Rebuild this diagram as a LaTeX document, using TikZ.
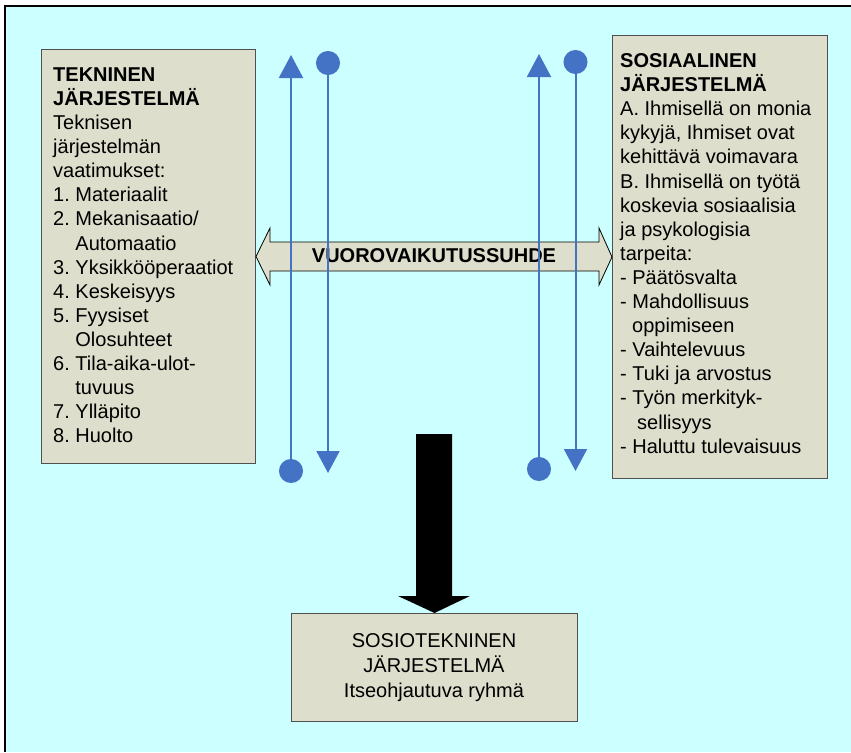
\documentclass[tikz,border=0pt]{standalone}
\usepackage{fontspec}
\setmainfont{Liberation Sans}
\usetikzlibrary{arrows.meta}
\frenchspacing
\definecolor{bgcyan}{HTML}{CCFFFF}
\definecolor{boxfill}{HTML}{DDDECB}
\definecolor{boxline}{HTML}{505050}
\definecolor{lineblue}{HTML}{4472C4}
\tikzset{
  sysbox/.style={draw=boxline, line width=1pt, fill=boxfill, inner sep=0pt, anchor=north west},
  boxtext/.style={inner sep=0pt, align=left, font=\fontsize{20}{24.1}\selectfont},
  bluelink/.style={draw=lineblue, line width=2pt},
  upend/.style={bluelink, {Circle[length=24pt,width=24pt]}-{Triangle[length=23pt,width=24pt]}},
  downend/.style={bluelink, {Circle[length=24pt,width=24pt]}-{Triangle[length=22pt,width=23pt]}},
}
\begin{document}
\begin{tikzpicture}[x=1pt,y=-1pt]
\useasboundingbox (0,0) rectangle (851,752);
\fill[bgcyan] (5,6) rectangle (851,752);
\draw[line width=1.5pt] (5,752) -- (5,6) -- (851,6);

% boxes
\node[sysbox, minimum width=214pt, minimum height=414pt] (tek) at (41,49) {};
\node[sysbox, minimum width=215pt, minimum height=443pt] (sos) at (612,35) {};
\node[sysbox, minimum width=286pt, minimum height=108pt] (stj) at (291,613) {};

\node[boxtext, anchor=north west] (tektext) at (53,67.4) {%
\textbf{TEKNINEN}\\
\textbf{JÄRJESTELMÄ}\\
Teknisen\\
järjestelmän\\
vaatimukset:\\
1. Materiaalit\\
2. Mekanisaatio/\\
\hphantom{2.\ }Automaatio\\
3. Yksikkööperaatiot\\
4. Keskeisyys\\
5. Fyysiset\\
\hphantom{5.\ }Olosuhteet\\
6. Tila-aika-ulot-\\
\hphantom{6.\ }tuvuus\\
7. Ylläpito\\
8. Huolto};

\node[boxtext, anchor=north west] (sostext) at (620,53.4) {%
\textbf{SOSIAALINEN}\\
\textbf{JÄRJESTELMÄ}\\
A. Ihmisellä on monia\\
kykyjä, Ihmiset ovat\\
kehittävä voimavara\\
B. Ihmisellä on työtä\\
koskevia sosiaalisia\\
ja psykologisia\\
tarpeita:\\
- Päätösvalta\\
- Mahdollisuus\\
\hspace*{12pt}oppimiseen\\
- Vaihtelevuus\\
- Tuki ja arvostus\\
- Työn merkityk-\\
\hspace*{17pt}sellisyys\\
- Haluttu tulevaisuus};

\node[boxtext, align=center, anchor=north, font=\fontsize{20}{25}\selectfont] (stjtext) at (434,633.4) {%
SOSIOTEKNINEN\\
JÄRJESTELMÄ\\
Itseohjautuva ryhmä};

% double arrow between the systems
\draw[line width=0.8pt, fill=boxfill] (tek.east) -- (270,228) -- (270,242) -- (599,242) -- (599,228)
  -- (sos.west) -- (599,285) -- (599,271) -- (270,271) -- (270,285) -- cycle;
\node[inner sep=0pt, anchor=base, font=\fontsize{20}{24}\selectfont\bfseries] (vuoro) at (434,262) {VUOROVAIKUTUSSUHDE};

% big black arrow to the sociotechnical system
\coordinate (bigtop) at (434,434);
\fill[black] (416,434) -- (452,434) -- (452,596) -- (470,596) -- (stj.north) -- (398,596) -- (416,596) -- cycle;

% blue vertical links
\coordinate (a1) at (291,483);  \coordinate (b1) at (291,55);
\coordinate (a2) at (328,51);   \coordinate (b2) at (328,473);
\coordinate (a3) at (539,481);  \coordinate (b3) at (539,54);
\coordinate (a4) at (575.5,50); \coordinate (b4) at (575.5,471);
\draw[upend] (a1) -- (b1);
\draw[downend] (a2) -- (b2);
\draw[upend] (a3) -- (b3);
\draw[downend] (a4) -- (b4);
\end{tikzpicture}
\end{document}
